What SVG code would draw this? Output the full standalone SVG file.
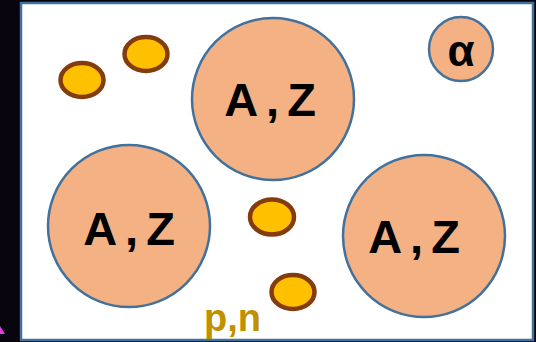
<svg xmlns="http://www.w3.org/2000/svg" width="536" height="342" viewBox="0 0 536 342">
<style>
.big{fill:#F4B183;stroke:#41719C;stroke-width:2.5}
.nuc{fill:#FFC000;stroke:#843C0C;stroke-width:4.5}
.az{font-family:"Liberation Sans",Arial,sans-serif;font-weight:bold;font-size:47px;fill:#000;text-anchor:middle;letter-spacing:8px}
</style>
<rect x="0" y="0" width="536" height="342" fill="#08040e"/>
<polygon points="0,326 5,334 0,334" fill="#e040e0"/>
<rect x="21" y="3" width="512" height="337" fill="#ffffff" stroke="#41719C" stroke-width="2.5"/>
<g id="nucleus-top"><circle class="big" cx="273" cy="99" r="81"/><text class="az" x="274" y="116">A,Z</text></g>
<g id="nucleus-left"><circle class="big" cx="129" cy="226" r="81"/><text class="az" x="133" y="245">A,Z</text></g>
<g id="nucleus-right"><circle class="big" cx="424" cy="236" r="81"/><text class="az" x="418" y="253">A,Z</text></g>
<g id="alpha"><circle class="big" cx="461" cy="49" r="32"/><text x="461" y="66" font-family="Liberation Sans,Arial,sans-serif" font-weight="bold" font-size="44" text-anchor="middle">α</text></g>
<g id="n1"><ellipse class="nuc" cx="82" cy="80" rx="21.5" ry="17"/></g>
<g id="n2"><ellipse class="nuc" cx="146" cy="54" rx="21.5" ry="17"/></g>
<g id="n3"><ellipse class="nuc" cx="272" cy="217" rx="22" ry="17.5"/></g>
<g id="n4"><ellipse class="nuc" cx="293" cy="292" rx="21.5" ry="17"/></g>
<g id="label"><text x="204" y="331" font-family="Liberation Sans,Arial,sans-serif" font-weight="bold" font-size="38" fill="#BF9000">p,n</text></g>
<g id="connectors"></g>
</svg>
